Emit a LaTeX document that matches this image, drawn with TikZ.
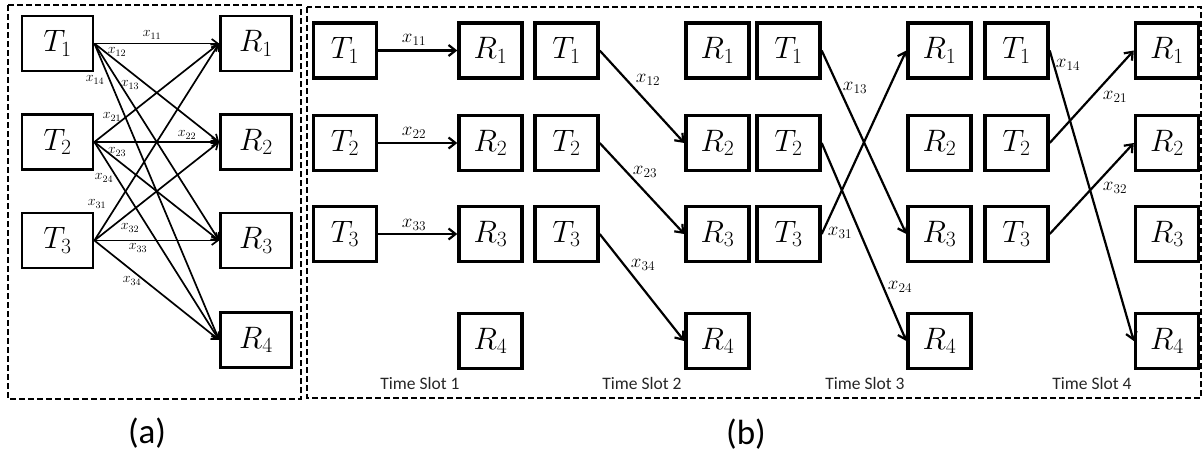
\RequirePackage{fix-cm}
\documentclass[tikz,border=0pt]{standalone}
\usepackage{fontspec}
\newfontfamily\carl{Carlito}
\usetikzlibrary{arrows.meta}
\tikzset{
  frame/.style={line width=2.6pt, dash pattern=on 6pt off 3pt},
  boxa/.style={draw, line width=2.8pt, minimum width=71pt, minimum height=55pt, inner sep=0pt,
    font=\fontsize{31}{31}\selectfont},
  boxb/.style={draw, line width=3.4pt, minimum width=63pt, minimum height=55pt, inner sep=0pt,
    font=\fontsize{31}{31}\selectfont},
  linka/.style={line width=1.7pt, -{Straight Barb[length=6pt,width=9pt,line width=1.7pt]}},
  linkb/.style={line width=2.2pt, -{Straight Barb[length=7pt,width=11pt,line width=2.2pt]}},
  laba/.style={inner sep=0pt, font=\fontsize{14}{14}\selectfont},
  labb/.style={inner sep=0pt, font=\fontsize{19}{19}\selectfont},
  slot/.style={inner sep=0pt, text=black!85, font=\carl\fontsize{17.5}{17.5}\selectfont},
  panelcap/.style={inner sep=0pt, font=\carl\fontsize{35}{35}\selectfont}
}
\begin{document}
\begin{tikzpicture}[x=1pt, y=-1pt]
\useasboundingbox (0,0) rectangle (1203,458);
% dashed frames of the two panels
\draw[frame] (8,5) rectangle (301,399);
\draw[frame] (307,7) rectangle (1201,398);

% ---------- panel (a): all links ----------
\foreach \i/\y in {1/43.5, 2/142, 3/240.5}
  \node[boxa] (aT\i) at (57.5,\y) {$T_\i$};
\foreach \j/\y in {1/43.5, 2/142, 3/240.5, 4/340}
  \node[boxa] (aR\j) at (256,\y) {$R_\j$};
\foreach \i in {1,2,3}
  \foreach \j in {1,2,3,4}
    \draw[linka] (aT\i.east) -- (aR\j.west);
\node[laba] (la11) at (152,35) {$x_{11}$};
\node[laba] (la12) at (117,52) {$x_{12}$};
\node[laba] (la13) at (130,85) {$x_{13}$};
\node[laba] (la14) at (95,80) {$x_{14}$};
\node[laba] (la21) at (112,117) {$x_{21}$};
\node[laba] (la22) at (187,135) {$x_{22}$};
\node[laba] (la23) at (117,152) {$x_{23}$};
\node[laba] (la24) at (104,178) {$x_{24}$};
\node[laba] (la31) at (97,204) {$x_{31}$};
\node[laba] (la32) at (130,228) {$x_{32}$};
\node[laba] (la33) at (138,248) {$x_{33}$};
\node[laba] (la34) at (132,281) {$x_{34}$};

% ---------- panel (b): four time slots ----------
% transmitters in slots 1-4
\foreach \s/\x in {1/345, 2/566.5, 3/788.5, 4/1016.5}
  \foreach \i/\y in {1/50.5, 2/143, 3/234}
    \node[boxb] (T\s\i) at (\x,\y) {$T_\i$};
% receivers in slots 1-4
\foreach \s/\x in {1/490.5, 2/717.5, 3/939.5, 4/1167}
  \foreach \j/\y in {1/50.5, 2/143, 3/234, 4/341}
    \node[boxb] (R\s\j) at (\x,\y) {$R_\j$};

% slot 1
\draw[linkb] (T11.east) -- (R11.west);
\draw[linkb] (T12.east) -- (R12.west);
\draw[linkb] (T13.east) -- (R13.west);
\node[labb] (lb11) at (414,40) {$x_{11}$};
\node[labb] (lb22) at (414,133) {$x_{22}$};
\node[labb] (lb33) at (414,225) {$x_{33}$};
% slot 2
\draw[linkb] (T21.east) -- (R22.west);
\draw[linkb] (T22.east) -- (R23.west);
\draw[linkb] (T23.east) -- (R24.west);
\node[labb] (lb12) at (648,80) {$x_{12}$};
\node[labb] (lb23) at (645,172) {$x_{23}$};
\node[labb] (lb34) at (643,265) {$x_{34}$};
% slot 3
\draw[linkb] (T31.east) -- (R33.west);
\draw[linkb] (T32.east) -- (R34.west);
\draw[linkb] (T33.east) -- (R31.west);
\node[labb] (lb13) at (855,88) {$x_{13}$};
\node[labb] (lb24) at (900,287) {$x_{24}$};
\node[labb] (lb31) at (840,233) {$x_{31}$};
% slot 4
\draw[linkb] (T41.east) -- (R44.west);
\draw[linkb] (T42.east) -- (R41.west);
\draw[linkb] (T43.east) -- (R42.west);
\node[labb] (lb14) at (1068,65) {$x_{14}$};
\node[labb] (lb21) at (1115,97) {$x_{21}$};
\node[labb] (lb32) at (1115,188) {$x_{32}$};

% slot captions
\node[slot] (s1) at (420,383) {Time Slot 1};
\node[slot] (s2) at (642,383) {Time Slot 2};
\node[slot] (s3) at (865,383) {Time Slot 3};
\node[slot] (s4) at (1092,383) {Time Slot 4};

% panel captions
\node[panelcap] (capa) at (147,433) {(a)};
\node[panelcap] (capb) at (746,434) {(b)};
\end{tikzpicture}
\end{document}
